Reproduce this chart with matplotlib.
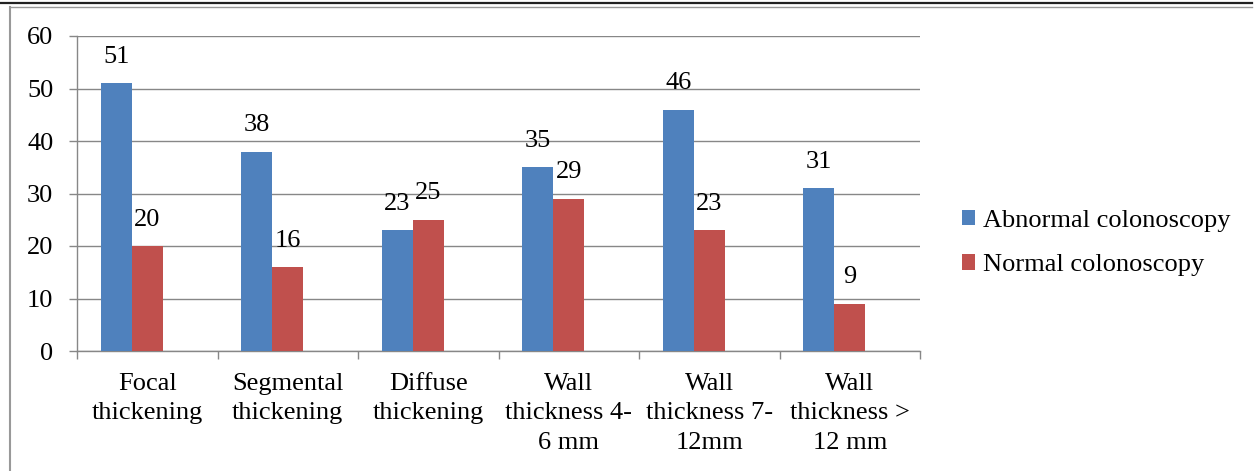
import matplotlib.pyplot as plt
from matplotlib.lines import Line2D
import numpy as np

# data
categories = ["Focal\nthickening", "Segmental\nthickening", "Diffuse\nthickening",
              "Wall\nthickness 4-\n6 mm", "Wall\nthickness 7-\n12mm", "Wall\nthickness >\n12 mm"]
abnormal = [51, 38, 23, 35, 46, 31]
normal = [20, 16, 25, 29, 23, 9]
series_names = ["Abnormal colonoscopy", "Normal colonoscopy"]
yticks = [0, 10, 20, 30, 40, 50, 60]

blue = "#4F81BD"
red = "#C0504D"
grid_gray = "#878787"

plt.rcParams['font.family'] = ['Liberation Serif', 'DejaVu Serif']
plt.rcParams['font.size'] = 19

W, H = 1254, 471
fig = plt.figure(figsize=(W / 100, H / 100), dpi=100)
ax = fig.add_axes([77 / W, 120 / H, (920 - 77) / W, (351 - 36) / H])

x = np.arange(len(categories))
w = 31 / 140.5
b1 = ax.bar(x - w, abnormal, width=w, color=blue, label=series_names[0], zorder=3)
b2 = ax.bar(x, normal, width=w, color=red, label=series_names[1], zorder=3)

# value labels
for bars, vals in [(b1, abnormal), (b2, normal)]:
    for bar, v in zip(bars, vals):
        ax.annotate(str(v), (bar.get_x() + bar.get_width() / 2, v),
                    xytext=(0, 19), textcoords='offset points',
                    ha='center', va='center', fontsize=19)

ax.set_xlim(-0.5, len(categories) - 0.5)
ax.set_ylim(0, 60)
ax.set_yticks(yticks)
ax.yaxis.grid(True, color=grid_gray, linewidth=1.0, zorder=0)
ax.set_axisbelow(True)

ax.set_xticks(x)
ax.set_xticklabels(categories, linespacing=1.42)
ax.set_xticks(np.arange(-0.5, len(categories)), minor=True)
ax.tick_params(axis='x', which='major', length=0, pad=16)
ax.tick_params(axis='x', which='minor', length=5.5, width=1.0, color=grid_gray, direction='out')
ax.tick_params(axis='y', length=6, width=1.0, color=grid_gray, pad=11)

for s in ['top', 'right']:
    ax.spines[s].set_visible(False)
for s in ['left', 'bottom']:
    ax.spines[s].set_color(grid_gray)
    ax.spines[s].set_linewidth(1.0)

fig.legend(handles=[b1, b2], labels=series_names, frameon=False,
           loc='center left', bbox_to_anchor=(938 / W, 1 - 243 / H),
           handlelength=0.5, handleheight=0.5, handletextpad=0.3,
           labelspacing=0.86, fontsize=19)

# chart frame bits
fig.add_artist(Line2D([0, 1252 / W], [1 - 2.5 / H, 1 - 2.5 / H], color='#222222', linewidth=1.6))
fig.add_artist(Line2D([10 / W, 1252 / W], [1 - 6.5 / H, 1 - 6.5 / H], color='#999999', linewidth=1.0))
fig.add_artist(Line2D([10 / W, 10 / W], [0, 1 - 6.5 / H], color='#999999', linewidth=1.5))

fig.savefig("out.png", dpi=100)
